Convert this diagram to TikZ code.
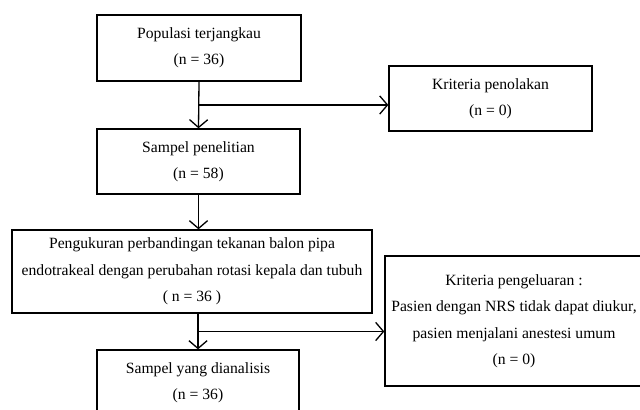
\documentclass[tikz,border=0pt]{standalone}
\usepackage{fontspec}
\setmainfont{Liberation Serif}
\usetikzlibrary{arrows.meta,positioning,calc}
\tikzset{
	kotak/.style={draw, line width=1pt, align=center, inner sep=0pt, font=\fontsize{12}{20.3}\selectfont},
	garis/.style={line width=1pt},
	panah/.style={line width=1pt, -{Straight Barb[length=6pt,width=14pt]}}
}
\begin{document}
\begin{tikzpicture}[x=0.767pt,y=-0.767pt]
		\clip (0,0) rectangle (640,409);
		\node [kotak, minimum width=156.5pt, minimum height=50.6pt](pop) at (199,48) {Populasi terjangkau\\(n = 36)};
		\node [kotak, minimum width=155.7pt, minimum height=49.9pt](tolak) at (490.5,98.5) {Kriteria penolakan\\(n = 0)};
		\node [kotak, minimum width=155.7pt, minimum height=49.9pt](sampel) at (198.5,161.5) {Sampel penelitian\\(n = 58)};
		\node [kotak, minimum width=276.1pt, minimum height=63.7pt](ukur) at (192,271.5) {Pengukuran perbandingan tekanan balon pipa\\endotrakeal dengan perubahan rotasi kepala dan tubuh\\( n = 36 )};
		\node [kotak, minimum width=197.9pt, minimum height=99.7pt](keluar) at (514,321) {Kriteria pengeluaran :\\Pasien dengan NRS tidak dapat diukur,\\pasien menjalani anestesi umum\\(n = 0)};
		\node [kotak, minimum width=154.9pt, minimum height=49.9pt](analisis) at (198,382.5) {Sampel yang dianalisis\\(n = 36)};
		\coordinate (j1) at ($(pop.south)!0.5!(sampel.north)$);
		\coordinate (j2) at ($(ukur.south -| analisis.north)!0.5!(analisis.north)$);
		\draw [panah] (pop.south) -- (sampel.north);
		\draw [panah] (j1) -- (j1 -| tolak.west);
		\draw [panah] (sampel.south) -- (sampel.south |- ukur.north);
		\draw [panah] (ukur.south -| analisis.north) -- (analisis.north);
		\draw [panah] (j2) -- (j2 -| keluar.west);
\end{tikzpicture}
\end{document}
